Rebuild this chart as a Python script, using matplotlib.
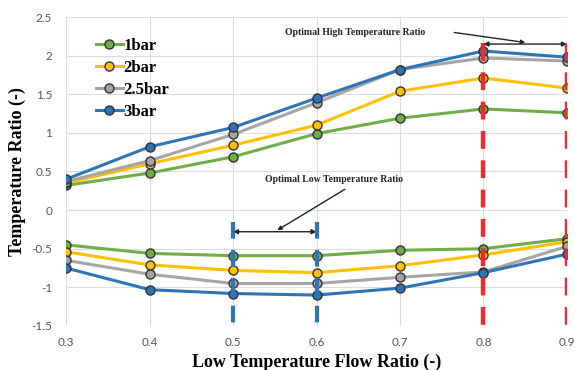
import matplotlib
matplotlib.use("Agg")
import matplotlib.pyplot as plt

x = [0.3, 0.4, 0.5, 0.6, 0.7, 0.8, 0.9]
labels = ["1bar", "2bar", "2.5bar", "3bar"]
colors = ["#70AD47", "#FFC000", "#A5A5A5", "#2E75B6"]

high = {
    "1bar":   [0.32, 0.48, 0.69, 0.99, 1.19, 1.31, 1.26],
    "2bar":   [0.35, 0.60, 0.84, 1.10, 1.54, 1.71, 1.58],
    "2.5bar": [0.37, 0.64, 0.98, 1.39, 1.82, 1.97, 1.93],
    "3bar":   [0.40, 0.82, 1.07, 1.45, 1.82, 2.06, 1.98],
}
low = {
    "1bar":   [-0.45, -0.56, -0.59, -0.59, -0.52, -0.50, -0.37],
    "2bar":   [-0.54, -0.71, -0.78, -0.81, -0.72, -0.58, -0.41],
    "2.5bar": [-0.65, -0.83, -0.95, -0.95, -0.87, -0.80, -0.47],
    "3bar":   [-0.75, -1.03, -1.08, -1.10, -1.01, -0.81, -0.57],
}
xticks = [0.3, 0.4, 0.5, 0.6, 0.7, 0.8, 0.9]
xticklabels = ["0.3", "0.4", "0.5", "0.6", "0.7", "0.8", "0.9"]
yticks = [-1.5, -1, -0.5, 0, 0.5, 1, 1.5, 2, 2.5]
yticklabels = ["-1.5", "-1", "-0.5", "0", "0.5", "1", "1.5", "2", "2.5"]

serif = ["Liberation Serif", "DejaVu Serif"]

fig = plt.figure(figsize=(5.75, 3.7), dpi=100)
ax = fig.add_axes([0.115, 0.119, 0.871, 0.835])

# optimal vertical dashed lines
for xv in [0.5, 0.6]:
    ax.plot([xv, xv], [-0.16, -1.5], color="#2E75B6", lw=3.0, ls=(0, (4, 2.7)), zorder=5)
for xv in [0.8, 0.9]:
    ax.plot([xv, xv], [2.17, -1.5], color="#EE2A2A", lw=3.2, ls=(0, (4, 2.6)), zorder=5)

for lab, c in zip(labels, colors):
    ax.plot(x, high[lab], color=c, lw=2.2, marker="o", ms=6.5,
            mfc=c, mec="#333333", mew=1.0, label=lab, zorder=3)
    ax.plot(x, low[lab], color=c, lw=2.2, marker="o", ms=6.5,
            mfc=c, mec="#333333", mew=1.0, zorder=3)

ax.set_xlim(0.3, 0.9)
ax.set_ylim(-1.5, 2.5)
ax.set_xticks(xticks)
ax.set_xticklabels(xticklabels)
ax.set_yticks(yticks)
ax.set_yticklabels(yticklabels)
for t in ax.get_xticklabels() + ax.get_yticklabels():
    t.set_fontfamily(["Lato", "DejaVu Sans"])
    t.set_fontsize(8.5)
    t.set_color("#555555")
ax.tick_params(axis="y", length=0, pad=10)
ax.tick_params(axis="x", length=0, pad=8)
ax.grid(True, color="#DDDDDD", lw=0.8)
for s in ax.spines.values():
    s.set_visible(False)
ax.set_axisbelow(True)

ax.set_xlabel("Low Temperature Flow Ratio (-)", fontfamily=serif,
              fontweight="bold", fontsize=13, labelpad=4)
ax.set_ylabel("Temperature Ratio (-)", fontfamily=serif,
              fontweight="bold", fontsize=13, labelpad=4)

leg = ax.legend(loc="upper left", bbox_to_anchor=(0.03, 0.98), frameon=False,
                prop={"family": serif, "weight": "bold", "size": 12},
                handlelength=1.6, handletextpad=0.05, labelspacing=0.35)

# annotations
ax.annotate("", xy=(0.9, 2.15), xytext=(0.8, 2.15),
            arrowprops=dict(arrowstyle="<|-|>", color="#222222", lw=1.0,
                            mutation_scale=7, shrinkA=0, shrinkB=0))
ax.annotate("", xy=(0.85, 2.17), xytext=(0.765, 2.30),
            arrowprops=dict(arrowstyle="-|>", color="#222222", lw=1.0,
                            mutation_scale=6, shrinkA=0, shrinkB=0))
ax.text(0.562, 2.30, "Optimal High Temperature Ratio", fontfamily=serif,
        fontweight="bold", fontsize=7, va="center", ha="left", color="#222222")

ax.annotate("", xy=(0.6, -0.28), xytext=(0.5, -0.28),
            arrowprops=dict(arrowstyle="<|-|>", color="#222222", lw=1.0,
                            mutation_scale=7, shrinkA=0, shrinkB=0))
ax.annotate("", xy=(0.553, -0.26), xytext=(0.634, 0.27),
            arrowprops=dict(arrowstyle="-|>", color="#222222", lw=1.0,
                            mutation_scale=6, shrinkA=0, shrinkB=0))
ax.text(0.538, 0.40, "Optimal Low Temperature Ratio", fontfamily=serif,
        fontweight="bold", fontsize=7, va="center", ha="left", color="#222222")

fig.savefig("out.png", dpi=100)
